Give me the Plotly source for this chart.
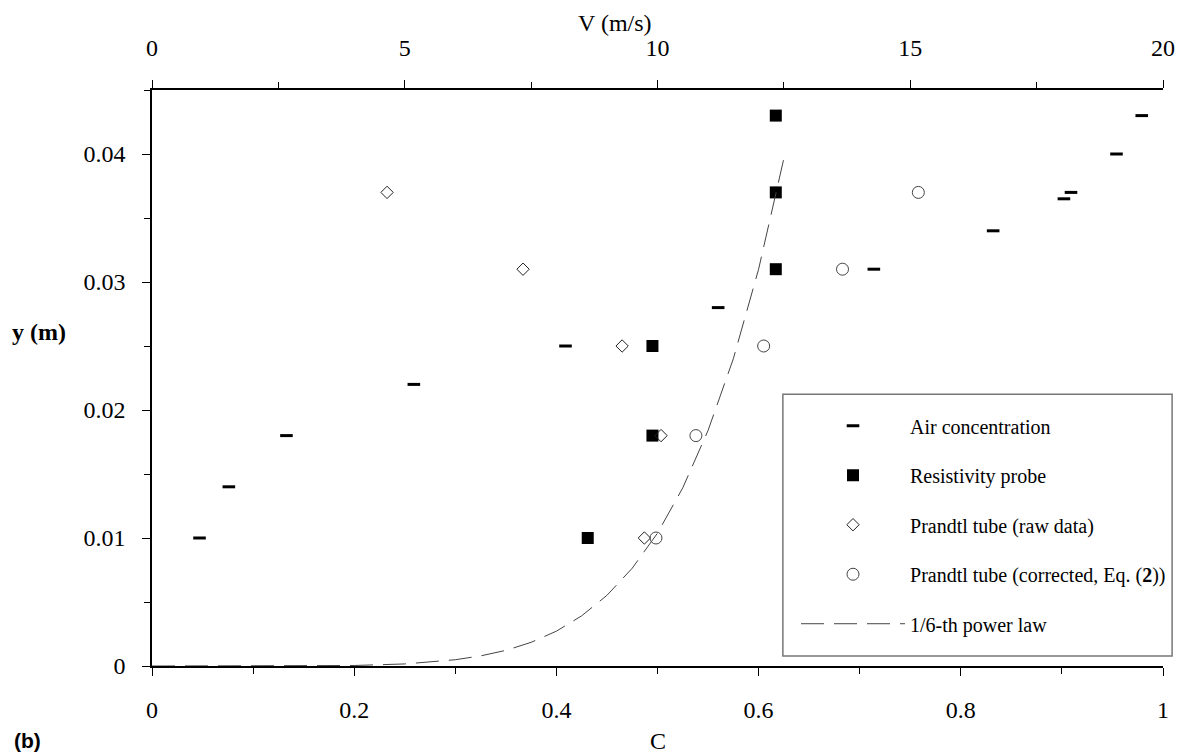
import plotly.graph_objects as go

# ---------------- data ----------------
air_C = [0.047, 0.076, 0.133, 0.259, 0.409, 0.560, 0.714, 0.832, 0.902, 0.909, 0.954, 0.979]
air_y = [0.010, 0.014, 0.018, 0.022, 0.025, 0.028, 0.031, 0.034, 0.0365, 0.037, 0.040, 0.043]

res_V = [8.62, 9.90, 9.90, 12.34, 12.34, 12.34]
res_y = [0.010, 0.018, 0.025, 0.031, 0.037, 0.043]

raw_V = [9.74, 10.07, 9.30, 7.34, 4.65]
raw_y = [0.010, 0.018, 0.025, 0.031, 0.037]

cor_V = [9.97, 10.76, 12.10, 13.66, 15.16]
cor_y = [0.010, 0.018, 0.025, 0.031, 0.037]

pow_V = [0, 2, 4, 5, 6, 6.5, 7, 7.5, 8, 8.5, 9, 9.5, 10, 10.5, 11, 11.5, 12, 12.52]
pow_y = [0, 0.000001, 0.00004, 0.00016, 0.00049, 0.00079, 0.00122, 0.00185, 0.00272,
         0.00392, 0.00552, 0.00764, 0.01038, 0.01392, 0.0184, 0.0240, 0.0310, 0.0400]

C_ticks = [0, 0.2, 0.4, 0.6, 0.8, 1]
C_ticktext = ["0", "0.2", "0.4", "0.6", "0.8", "1"]
V_ticks = [0, 5, 10, 15, 20]
V_ticktext = ["0", "5", "10", "15", "20"]
y_ticks = [0, 0.01, 0.02, 0.03, 0.04]
y_ticktext = ["0", "0.01", "0.02", "0.03", "0.04"]

SERIF = "Liberation Serif, Times New Roman, serif"
TICKFONT = dict(family=SERIF, size=24, color="black")

fig = go.Figure()

fig.add_trace(go.Scatter(
    x=air_C, y=air_y, mode="markers", name="Air concentration",
    xaxis="x", yaxis="y", legendgroup="a",
    marker=dict(symbol="line-ew", size=9, color="black",
                line=dict(width=3, color="black"))))
fig.add_trace(go.Scatter(
    x=res_V, y=res_y, mode="markers", name="Resistivity probe",
    xaxis="x2", yaxis="y", legendgroup="b",
    marker=dict(symbol="square", size=12, color="black")))
fig.add_trace(go.Scatter(
    x=raw_V, y=raw_y, mode="markers", name="Prandtl tube (raw data)",
    xaxis="x2", yaxis="y", legendgroup="c",
    marker=dict(symbol="diamond-open", size=9.5, color="#222",
                line=dict(width=1, color="#222"))))
fig.add_trace(go.Scatter(
    x=cor_V, y=cor_y, mode="markers", name="Prandtl tube (corrected, Eq. (<b>2</b>))",
    xaxis="x2", yaxis="y", legendgroup="d",
    marker=dict(symbol="circle-open", size=12, color="#444",
                line=dict(width=1, color="#444"))))
fig.add_trace(go.Scatter(
    x=pow_V, y=pow_y, mode="lines", name="1/6-th power law",
    xaxis="x2", yaxis="y", legendgroup="e",
    line=dict(color="#444", width=1, dash="23px,10px")))

common_axis = dict(showgrid=False, zeroline=False, color="black")

# the page body adds an 8 px margin, so the figure is sized/offset to compensate
fig.update_layout(
    width=1179, height=748,
    margin=dict(l=144, r=19, t=82, b=90),
    paper_bgcolor="white", plot_bgcolor="white",
    showlegend=True,
    xaxis=dict(**common_axis, range=[0, 1], side="bottom", anchor="y",
               showline=True, linecolor="black", linewidth=1.5,
               ticks="outside", ticklen=8, tickwidth=1, tickcolor="black",
               tickvals=C_ticks, ticktext=C_ticktext, tickfont=TICKFONT,
               ticklabelstandoff=13,
               minor=dict(ticks="outside", ticklen=6, tickwidth=1, dtick=0.1,
                          tickcolor="black", showgrid=False)),
    xaxis3=dict(**common_axis, range=[0, 1], overlaying="x", side="bottom",
                anchor="y", showline=False, ticks="inside", ticklen=8,
                tickwidth=1, tickcolor="black", tickvals=C_ticks,
                showticklabels=False),
    xaxis2=dict(**common_axis, range=[0, 20], overlaying="x", side="top",
                anchor="y", showline=True, linecolor="black", linewidth=1.5,
                ticks="outside", ticklen=8, tickwidth=1, tickcolor="black",
                tickvals=V_ticks, ticktext=V_ticktext, tickfont=TICKFONT,
                ticklabelstandoff=15,
                minor=dict(ticks="outside", ticklen=6, tickwidth=1, dtick=2.5,
                           tickcolor="black", showgrid=False)),
    xaxis4=dict(**common_axis, range=[0, 20], overlaying="x", side="top",
                anchor="y", showline=False, ticks="inside", ticklen=8,
                tickwidth=1, tickcolor="black", tickvals=V_ticks,
                showticklabels=False),
    yaxis=dict(**common_axis, range=[0, 0.045], side="left", anchor="x",
               showline=True, linecolor="black", linewidth=1.5,
               ticks="outside", ticklen=8, tickwidth=1, tickcolor="black",
               tickvals=y_ticks, ticktext=y_ticktext, tickfont=TICKFONT,
               ticklabelstandoff=12,
               minor=dict(ticks="outside", ticklen=6, tickwidth=1, dtick=0.005,
                          tickcolor="black", showgrid=False)),
    yaxis2=dict(**common_axis, range=[0, 0.045], overlaying="y", side="left",
                anchor="x", showline=False, ticks="inside", ticklen=8,
                tickwidth=1, tickcolor="black", tickvals=y_ticks,
                showticklabels=False),
    legend=dict(x=0.637, y=0.451, xanchor="left", yanchor="top",
                bgcolor="rgba(0,0,0,0)", borderwidth=0,
                font=dict(family=SERIF, size=20, color="black"),
                itemwidth=104, traceorder="grouped", tracegroupgap=20.5),
    shapes=[
        # legend frame
        dict(type="rect", xref="paper", yref="paper",
             x0=0.624, x1=1.009, y0=0.0174, y1=0.472,
             line=dict(color="#777", width=1.5), fillcolor="rgba(0,0,0,0)",
             layer="below"),
    ],
    annotations=[
        dict(text="V (m/s)", xref="paper", yref="paper", x=0.458, y=1.116,
             xanchor="center", yanchor="middle", showarrow=False,
             font=dict(family=SERIF, size=24, color="black")),
        dict(text="C", xref="paper", yref="paper", x=0.5, y=-0.130,
             xanchor="center", yanchor="middle", showarrow=False,
             font=dict(family=SERIF, size=24, color="black")),
        dict(text="<b>y (m)</b>", xref="paper", yref="paper", x=-0.112, y=0.579,
             xanchor="center", yanchor="middle", showarrow=False,
             font=dict(family=SERIF, size=24, color="black")),
        dict(text="<b>(b)</b>", xref="paper", yref="paper", x=-0.1233, y=-0.130,
             xanchor="center", yanchor="middle", showarrow=False,
             font=dict(family="Liberation Sans, Arial, sans-serif", size=21,
                       color="black")),
    ],
)

fig.write_html("out.html")
